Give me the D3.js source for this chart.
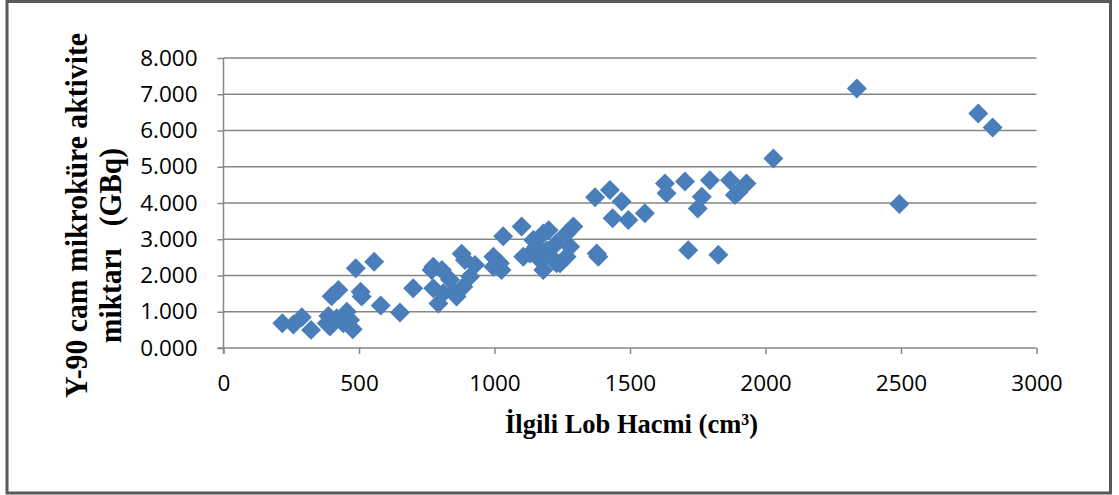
<!DOCTYPE html>
<html>
<head>
<meta charset="utf-8">
<script src="https://cdn.jsdelivr.net/npm/d3@7"></script>
<style>
  html, body { margin: 0; padding: 0; background: #fff; }
  svg { display: block; }
  .tick text { font-family: "Open Sans", "Liberation Sans", sans-serif; font-size: 22.5px; fill: #000; }
  .lbl { font-family: "Liberation Serif", "Times New Roman", serif; font-weight: bold; fill: #000; white-space: pre; }
</style>
</head>
<body>
<svg id="chart" width="1119" height="495"></svg>
<script>
// Data: liver lobe volume (cm³) vs Y-90 glass microsphere activity (GBq)
const lobeVolume = [217,258,289,323,381,387,393,399,418,424,442,455,467,477,488,506,510,556,580,651,
  700,768,774,774,793,806,811,836,848,860,879,885,891,910,928,996,996,1020,1026,1032,
  1100,1106,1131,1143,1155,1168,1180,1180,1193,1200,1210,1229,1229,1242,1266,1266,1279,1291,
  1371,1377,1383,1426,1436,1469,1494,1555,1629,1635,1703,1715,1750,1765,1795,1826,1869,1887,1900,1930,
  2029,2337,2494,2785,2838];
const activity = [0.68,0.65,0.85,0.50,0.68,0.88,0.59,1.43,0.82,1.60,0.68,1.00,0.77,0.52,2.20,1.55,1.42,2.38,1.17,0.98,
  1.65,2.15,2.24,1.65,1.23,2.15,1.51,1.88,1.55,1.42,2.60,1.69,2.43,1.97,2.29,2.52,2.24,2.34,2.15,3.08,
  3.35,2.52,2.61,2.98,2.80,2.43,3.16,2.15,2.70,3.25,2.50,2.89,2.34,2.34,3.16,2.52,2.79,3.35,
  4.16,2.61,2.52,4.36,3.58,4.04,3.53,3.72,4.54,4.27,4.59,2.70,3.85,4.17,4.63,2.57,4.63,4.22,4.30,4.54,
  5.23,7.16,3.97,6.47,6.08];
const xTicks = [0,500,1000,1500,2000,2500,3000];
const yTicks = [0,1,2,3,4,5,6,7,8];
const xTitle = "İlgili Lob Hacmi (cm³)";
const yTitle1 = "Y-90 cam mikroküre aktivite";
const yTitle2 = "miktarı   (GBq)";

const svg = d3.select("#chart");
const W = 1119, H = 495;

// outer frame
svg.append("rect").attr("x", 7).attr("y", 1.5).attr("width", 1103.5).attr("height", 491.5)
  .attr("fill", "#fff").attr("stroke", "#595959").attr("stroke-width", 3);

const x = d3.scaleLinear().domain([0, 3000]).range([223.5, 1036.5]);
const y = d3.scaleLinear().domain([0, 8]).range([348, 58]);

// gridlines
svg.append("g").selectAll("line").data(yTicks.filter(d => d > 0)).join("line")
  .attr("x1", x(0)).attr("x2", x(3000))
  .attr("y1", d => y(d)).attr("y2", d => y(d))
  .attr("stroke", "#868686").attr("stroke-width", 1.5);

// y axis
const gy = svg.append("g").attr("transform", `translate(${x(0)},0)`)
  .call(d3.axisLeft(y).tickValues(yTicks).tickSize(6).tickPadding(20)
    .tickFormat(d => d3.format(".3f")(d)));
gy.select(".domain").attr("stroke", "#868686").attr("stroke-width", 1.5).attr("d", `M0,${y(8)}V${y(0)+6}`);
gy.selectAll(".tick line").attr("stroke", "#868686").attr("stroke-width", 1.5);

// x axis
const gx = svg.append("g").attr("transform", `translate(0,${y(0)})`)
  .call(d3.axisBottom(x).tickValues(xTicks).tickSize(6).tickPadding(21).tickFormat(d3.format("d")));
gx.select(".domain").attr("stroke", "#868686").attr("stroke-width", 1.5).attr("d", `M${x(0)-6},0H${x(3000)}`);
gx.selectAll(".tick line").attr("stroke", "#868686").attr("stroke-width", 1.5);

// points (diamonds)
const pts = lobeVolume.map((v, i) => ({v, a: activity[i]}));
const diamond = d3.symbol().type(d3.symbolSquare).size(200);
svg.append("g").selectAll("path").data(pts).join("path")
  .attr("d", diamond)
  .attr("transform", d => `translate(${x(d.v)},${y(d.a)}) rotate(45)`)
  .attr("fill", "#4a7ebb");

// axis titles
svg.append("text").attr("class", "lbl")
  .attr("x", 631.5).attr("y", 433).attr("text-anchor", "middle")
  .attr("font-size", 28).attr("textLength", 253).attr("lengthAdjust", "spacingAndGlyphs")
  .text(xTitle);

svg.append("text").attr("class", "lbl")
  .attr("transform", "translate(87,398) rotate(-90)")
  .attr("font-size", 31).attr("textLength", 365).attr("lengthAdjust", "spacingAndGlyphs")
  .text(yTitle1);
svg.append("text").attr("class", "lbl")
  .attr("transform", "translate(121,343) rotate(-90)")
  .attr("font-size", 31).attr("textLength", 195).attr("lengthAdjust", "spacingAndGlyphs")
  .text(yTitle2);
</script>
</body>
</html>
